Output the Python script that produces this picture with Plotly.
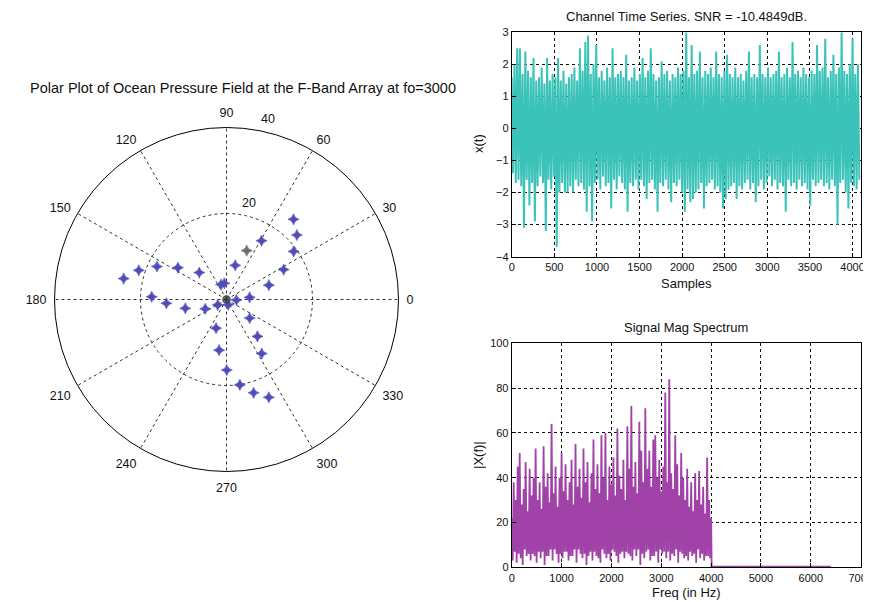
import math
import plotly.graph_objects as go

# ---------------- Polar data (r, theta in degrees) ----------------
polar_r = [24.3, 22.2, 19.2, 15.9, 15.0, 10.4, 8.2, 3.7, 3.8, 5.4, 2.3, 1.3, 2.4, 5.4,
           9.8, 14.0, 17.4, 8.9, 13.5, 17.9, 21.5, 24.4, 6.9, 11.2, 15.0, 7.1, 11.9,
           16.4, 20.1, 22.6, 24.8]
polar_theta = [50.1, 42.5, 35.6, 59.2, 27.6, 18.7, 75.7, 109.9, 97.7, 5.3, 357.2, 288.0,
               212.0, 203.8, 192.0, 183.6, 177.9, 135.3, 146.8, 154.6, 161.6, 168.5,
               321.3, 310.0, 303.1, 250.0, 261.7, 270.2, 278.9, 286.2, 293.4]
ref_r = [12.3]
ref_theta = [67.5]
origin_r = [0.0]
origin_theta = [0.0]
angular_ticks = [0, 30, 60, 90, 120, 150, 180, 210, 240, 270, 300, 330]
radial_ticks = [20, 40]
radial_max = 40

# ---------------- Time series (one sample every 16) ----------------
ts_step = 16
ts_values = [
    1.6, -1.4, 2.0, -1.7, 2.5, -1.6, 2.5, -1.8, 1.7, -3.1, 2.4, -1.6, 1.8, -2.4, 1.6, -1.7,
    2.2, -2.9, 1.5, -1.8, 1.6, -1.5, 1.9, -1.7, 1.4, -3.2, 2.2, -1.6, 1.5, -1.9, 1.7, -1.5,
    1.6, -3.7, 2.2, -2.0, 1.5, -1.7, 1.8, -2.0, 1.4, -2.0, 1.6, -1.8, 1.7, -2.0, 1.9, -1.6,
    1.5, -1.8, 2.5, -1.7, 1.8, -1.9, 2.7, -2.6, 2.9, -1.8, 1.7, -2.9, 2.0, -1.7, 2.6, -1.6,
    1.6, -1.9, 1.8, -1.5, 1.5, -1.8, 1.9, -1.7, 1.6, -2.5, 2.5, -1.6, 1.6, -1.9, 1.7, -1.5,
    1.8, -1.7, 1.6, -1.9, 2.3, -2.6, 1.5, -1.7, 1.6, -1.8, 1.9, -1.6, 1.5, -1.9, 1.7, -1.6,
    2.2, -1.8, 1.6, -2.2, 1.8, -1.7, 2.5, -1.6, 1.7, -1.9, 1.5, -2.6, 1.6, -1.7, 2.1, -1.8,
    1.7, -1.6, 1.8, -1.9, 1.5, -2.3, 1.7, -1.7, 1.6, -1.8, 1.9, -1.6, 1.7, -2.0, 1.8, -2.6,
    3.0, -1.9, 1.6, -2.3, 2.6, -2.2, 1.7, -2.0, 1.8, -1.9, 2.4, -1.7, 1.6, -2.5, 1.8, -1.8,
    1.7, -1.7, 1.9, -1.6, 1.6, -1.9, 2.4, -1.8, 1.7, -2.0, 1.6, -2.5, 1.8, -2.2, 2.3, -1.9,
    1.7, -1.8, 1.6, -1.7, 1.9, -2.2, 1.6, -1.8, 1.7, -1.9, 1.5, -1.7, 1.8, -1.6, 2.4, -1.9,
    1.6, -1.7, 1.7, -2.3, 1.6, -1.8, 2.6, -1.6, 1.7, -1.9, 1.6, -1.7, 1.9, -1.5, 1.6, -1.8,
    1.7, -1.6, 1.8, -1.9, 2.4, -1.7, 1.6, -1.8, 1.7, -2.6, 1.9, -1.6, 1.6, -1.8, 2.7, -1.7,
    1.7, -1.9, 1.8, -1.6, 1.6, -1.8, 1.9, -1.7, 1.7, -1.9, 1.6, -2.4, 1.8, -1.6, 1.7, -1.8,
    2.6, -1.7, 1.8, -1.6, 1.9, -1.8, 2.8, -1.7, 1.6, -1.9, 1.8, -1.6, 2.3, -1.8, 1.7, -3.0,
    1.9, -1.7, 3.0, -1.6, 1.8, -2.0, 1.7, -2.5, 2.0, -1.7, 2.8, -1.8, 1.7, -1.9, 2.0, -1.6,
]
ts_samples = [i * ts_step for i in range(len(ts_values))]

# ---------------- Spectrum (one bin every 20 Hz up to 4000 Hz) ----------------
spec_step = 20
spec_mag = [
    22, 3, 38, 7, 30, 2, 45, 6, 51, 4, 28, 1, 35, 8, 47, 5,
    25, 6, 44, 3, 32, 6, 40, 5, 53, 2, 30, 7, 38, 4, 26, 7,
    54, 1, 36, 5, 42, 5, 29, 8, 64, 3, 33, 8, 45, 6, 27, 2,
    40, 6, 51, 4, 34, 7, 46, 7, 30, 3, 38, 5, 48, 5, 28, 8,
    55, 2, 36, 8, 44, 6, 31, 4, 53, 6, 38, 1, 47, 5, 29, 7,
    42, 3, 57, 7, 35, 5, 46, 4, 33, 2, 59, 8, 40, 6, 60, 4,
    30, 6, 45, 3, 37, 8, 49, 7, 32, 5, 62, 2, 41, 6, 35, 7,
    48, 4, 30, 7, 63, 6, 44, 5, 72, 3, 36, 8, 47, 5, 33, 8,
    65, 1, 52, 6, 38, 4, 71, 7, 44, 8, 52, 3, 36, 5, 57, 5,
    59, 7, 40, 2, 48, 8, 34, 6, 45, 7, 78, 4, 38, 7, 84, 3,
    42, 6, 35, 5, 59, 8, 46, 2, 32, 7, 51, 6, 40, 4, 30, 5,
    44, 3, 27, 7, 38, 5, 25, 6, 42, 2, 30, 8, 43, 4, 28, 6,
    36, 3, 24, 5, 49, 5, 30, 4, 22,
]
spec_freq = [i * spec_step for i in range(len(spec_mag))]
tail_freq = [4010, 4800, 5600, 6400]
tail_mag = [0.4, 0.3, 0.4, 0.3]

FONT = "Liberation Sans, Arial, sans-serif"
OFF = 8                     # page body margin of the browser
W, H = 871 - OFF, 602 - OFF
TS_COLOR = "#3bc2b9"
SPEC_COLOR = "#a042a8"
MARK_COLOR = "#4f4bb8"
TXT = "#111"
TICK_SIZE = 11
LABEL_SIZE = 13

fig = go.Figure()

# ---- polar ----
fig.add_trace(go.Scatterpolar(
    r=polar_r, theta=polar_theta, mode="markers",
    marker=dict(symbol="star-diamond", size=8, color=MARK_COLOR,
                line=dict(color=MARK_COLOR, width=0.6)),
    subplot="polar", showlegend=False))
fig.add_trace(go.Scatterpolar(
    r=ref_r, theta=ref_theta, mode="markers",
    marker=dict(symbol="star-diamond", size=8, color="#6e6e6e",
                line=dict(color="#6e6e6e", width=0.6)),
    subplot="polar", showlegend=False))
fig.add_trace(go.Scatterpolar(
    r=origin_r, theta=origin_theta, mode="markers",
    marker=dict(symbol="circle-open", size=7, color="#444",
                line=dict(color="#444", width=1.5)),
    subplot="polar", showlegend=False))

# ---- time series ----
fig.add_trace(go.Scatter(x=ts_samples, y=ts_values, mode="lines",
                         line=dict(color=TS_COLOR, width=2),
                         xaxis="x", yaxis="y", showlegend=False))
# ---- spectrum ----
fig.add_trace(go.Scatter(x=spec_freq + tail_freq, y=spec_mag + tail_mag, mode="lines",
                         line=dict(color=SPEC_COLOR, width=1.8),
                         xaxis="x2", yaxis="y2", showlegend=False))


def px_x(p):
    return (p - OFF) / W


def px_y(p):
    return 1 - (p - OFF) / H


axis_common = dict(showline=True, mirror=True, linecolor="black", linewidth=1,
                   ticks="inside", ticklen=4, tickcolor="black",
                   showgrid=True, gridcolor="#111", griddash="dot", gridwidth=1,
                   zeroline=False, tickfont=dict(family=FONT, size=TICK_SIZE, color=TXT),
                   automargin=False, ticklabeloverflow="allow")

PCX, PCY, PR = 226.5, 299.5, 172

fig.update_layout(
    width=W, height=H,
    margin=dict(l=0, r=0, t=0, b=0),
    paper_bgcolor="white", plot_bgcolor="white",
    font=dict(family=FONT, size=12, color=TXT),
    polar=dict(
        domain=dict(x=[px_x(PCX - PR), px_x(PCX + PR)],
                    y=[px_y(PCY + PR), px_y(PCY - PR)]),
        bgcolor="white",
        angularaxis=dict(rotation=0, direction="counterclockwise",
                         tickvals=angular_ticks, ticktext=[str(a) for a in angular_ticks],
                         showline=True, linecolor="black", linewidth=1,
                         showgrid=True, gridcolor="#333", griddash="dot", gridwidth=1,
                         ticks="outside", ticklen=5, tickcolor="rgba(0,0,0,0)",
                         tickfont=dict(family=FONT, size=12.5, color=TXT)),
        radialaxis=dict(range=[0, radial_max], tickvals=radial_ticks,
                        showticklabels=False,
                        showline=False, ticks="", angle=77,
                        showgrid=True, gridcolor="#333", griddash="dot", gridwidth=1),
    ),
    xaxis=dict(domain=[px_x(511.7), px_x(860.7)], range=[0, 4096],
               tickvals=[0, 500, 1000, 1500, 2000, 2500, 3000, 3500, 4000],
               anchor="y", **axis_common),
    yaxis=dict(domain=[px_y(256.7), px_y(32.3)], range=[-4, 3],
               tickvals=[-4, -3, -2, -1, 0, 1, 2, 3],
               anchor="x", **axis_common),
    xaxis2=dict(domain=[px_x(511.7), px_x(860.7)], range=[0, 7000],
                tickvals=[0, 1000, 2000, 3000, 4000, 5000, 6000, 7000],
                anchor="y2", **axis_common),
    yaxis2=dict(domain=[px_y(567.3), px_y(343.3)], range=[0, 100],
                tickvals=[0, 20, 40, 60, 80, 100],
                anchor="x2", **axis_common),
)

ann = [
    dict(text="Polar Plot of Ocean Pressure Field at the F-Band Array at fo=3000",
         x=px_x(243), y=px_y(88), font=dict(family=FONT, size=14.5, color=TXT)),
    dict(text="Channel Time Series. SNR = -10.4849dB.", x=px_x(686), y=px_y(16)),
    dict(text="Samples", x=px_x(686), y=px_y(283)),
    dict(text="x(t)", x=px_x(478), y=px_y(144), textangle=-90),
    dict(text="Signal Mag Spectrum", x=px_x(686), y=px_y(327)),
    dict(text="Freq (in Hz)", x=px_x(686), y=px_y(592)),
    dict(text="|X(f)|", x=px_x(478), y=px_y(455), textangle=-90),
]
# radial tick labels, placed just outside their circles along the 77 degree spoke
RAD_ANGLE = math.radians(77)
for rv in radial_ticks:
    dist = rv / radial_max * PR + 13
    ann.append(dict(text=str(rv),
                    x=px_x(PCX + dist * math.cos(RAD_ANGLE)),
                    y=px_y(PCY - dist * math.sin(RAD_ANGLE)),
                    font=dict(family=FONT, size=12.5, color=TXT)))

for a in ann:
    a.setdefault("font", dict(family=FONT, size=LABEL_SIZE, color=TXT))
    fig.add_annotation(xref="paper", yref="paper", showarrow=False,
                       xanchor="center", yanchor="middle", **a)

fig.write_html("out.html")
